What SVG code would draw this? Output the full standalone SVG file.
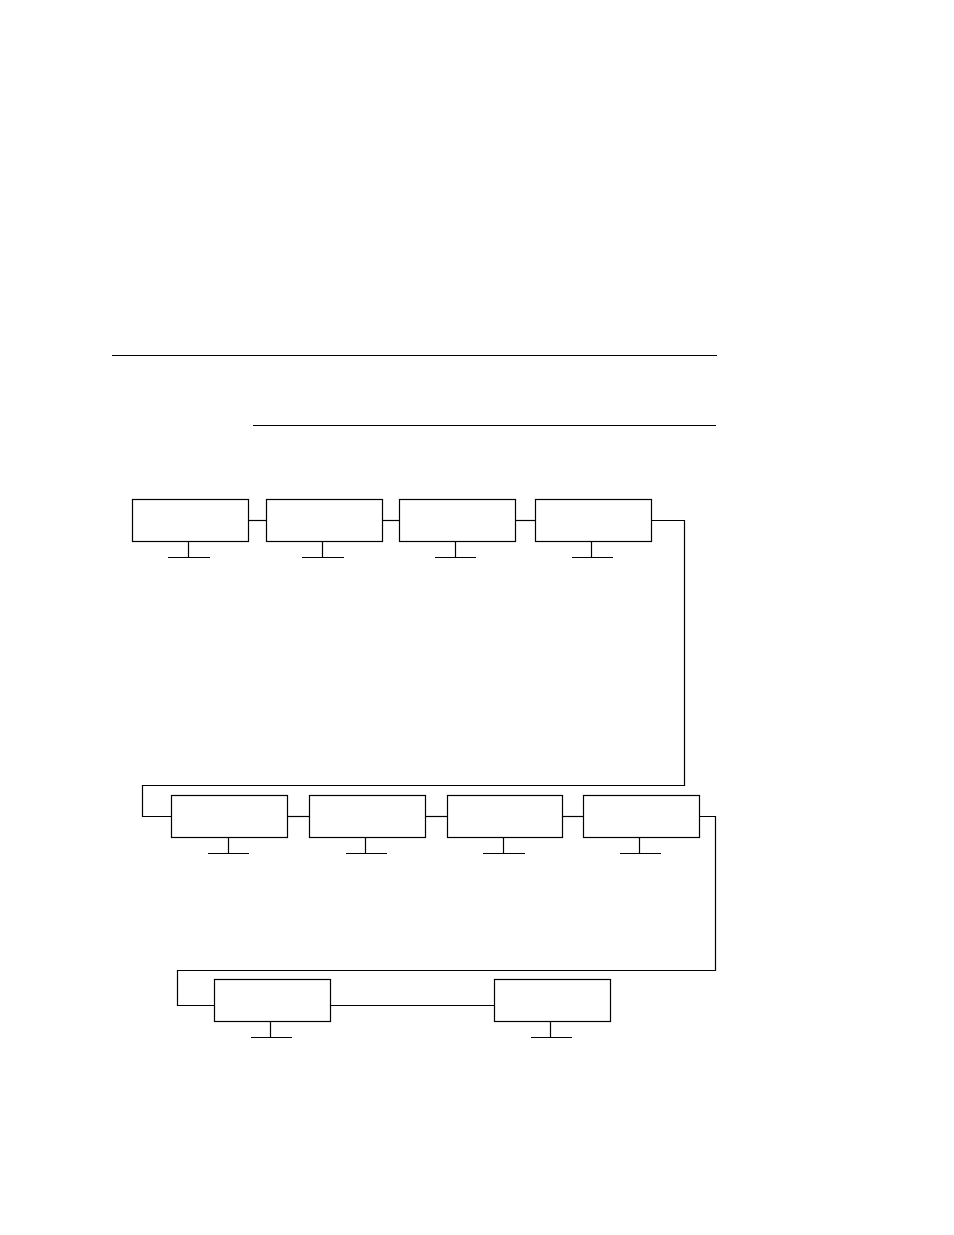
<svg xmlns="http://www.w3.org/2000/svg" width="954" height="1235" viewBox="0 0 954 1235">
<style>
.box{fill:#fff;stroke:#000;stroke-width:1.2}
.ln{fill:none;stroke:#000;stroke-width:1.2}
</style>
<rect width="954" height="1235" fill="#fff"/>
<g id="rules">
<line class="ln" x1="112" y1="355.5" x2="717" y2="355.5"/>
<line class="ln" x1="253" y1="425.5" x2="716" y2="425.5"/>
</g>
<g id="connectors">
<line class="ln" x1="248.5" y1="520.5" x2="266.5" y2="520.5"/>
<line class="ln" x1="382.5" y1="520.5" x2="399.5" y2="520.5"/>
<line class="ln" x1="515.5" y1="520.5" x2="535.5" y2="520.5"/>
<polyline class="ln" points="651.5,520.5 684.5,520.5 684.5,785.5 142.5,785.5 142.5,816.5 171.5,816.5"/>
<line class="ln" x1="287.5" y1="816.5" x2="309.5" y2="816.5"/>
<line class="ln" x1="425.5" y1="816.5" x2="447.5" y2="816.5"/>
<line class="ln" x1="562.5" y1="816.5" x2="583.5" y2="816.5"/>
<polyline class="ln" points="699.5,816.5 715.5,816.5 715.5,970.5 177.5,970.5 177.5,1005.5 214.5,1005.5"/>
<line class="ln" x1="330.5" y1="1005.5" x2="494.5" y2="1005.5"/>
</g>
<g id="n1"><rect class="box" x="132.5" y="499.5" width="116" height="42"/><path class="ln" d="M188.5 541.5V557.5M168 557.5H210"/></g>
<g id="n2"><rect class="box" x="266.5" y="499.5" width="116" height="42"/><path class="ln" d="M322.5 541.5V557.5M302 557.5H344"/></g>
<g id="n3"><rect class="box" x="399.5" y="499.5" width="116" height="42"/><path class="ln" d="M455.5 541.5V557.5M435 557.5H476"/></g>
<g id="n4"><rect class="box" x="535.5" y="499.5" width="116" height="42"/><path class="ln" d="M591.5 541.5V557.5M572 557.5H613"/></g>
<g id="n5"><rect class="box" x="171.5" y="795.5" width="116" height="42"/><path class="ln" d="M228.5 837.5V853.5M208 853.5H249"/></g>
<g id="n6"><rect class="box" x="309.5" y="795.5" width="116" height="42"/><path class="ln" d="M365.5 837.5V853.5M346 853.5H387"/></g>
<g id="n7"><rect class="box" x="447.5" y="795.5" width="115" height="42"/><path class="ln" d="M503.5 837.5V853.5M483 853.5H525"/></g>
<g id="n8"><rect class="box" x="583.5" y="795.5" width="116" height="42"/><path class="ln" d="M639.5 837.5V853.5M620 853.5H661"/></g>
<g id="n9"><rect class="box" x="214.5" y="979.5" width="116" height="42"/><path class="ln" d="M270.5 1021.5V1037.5M251 1037.5H292"/></g>
<g id="n10"><rect class="box" x="494.5" y="979.5" width="116" height="42"/><path class="ln" d="M550.5 1021.5V1037.5M531 1037.5H572"/></g>
</svg>
